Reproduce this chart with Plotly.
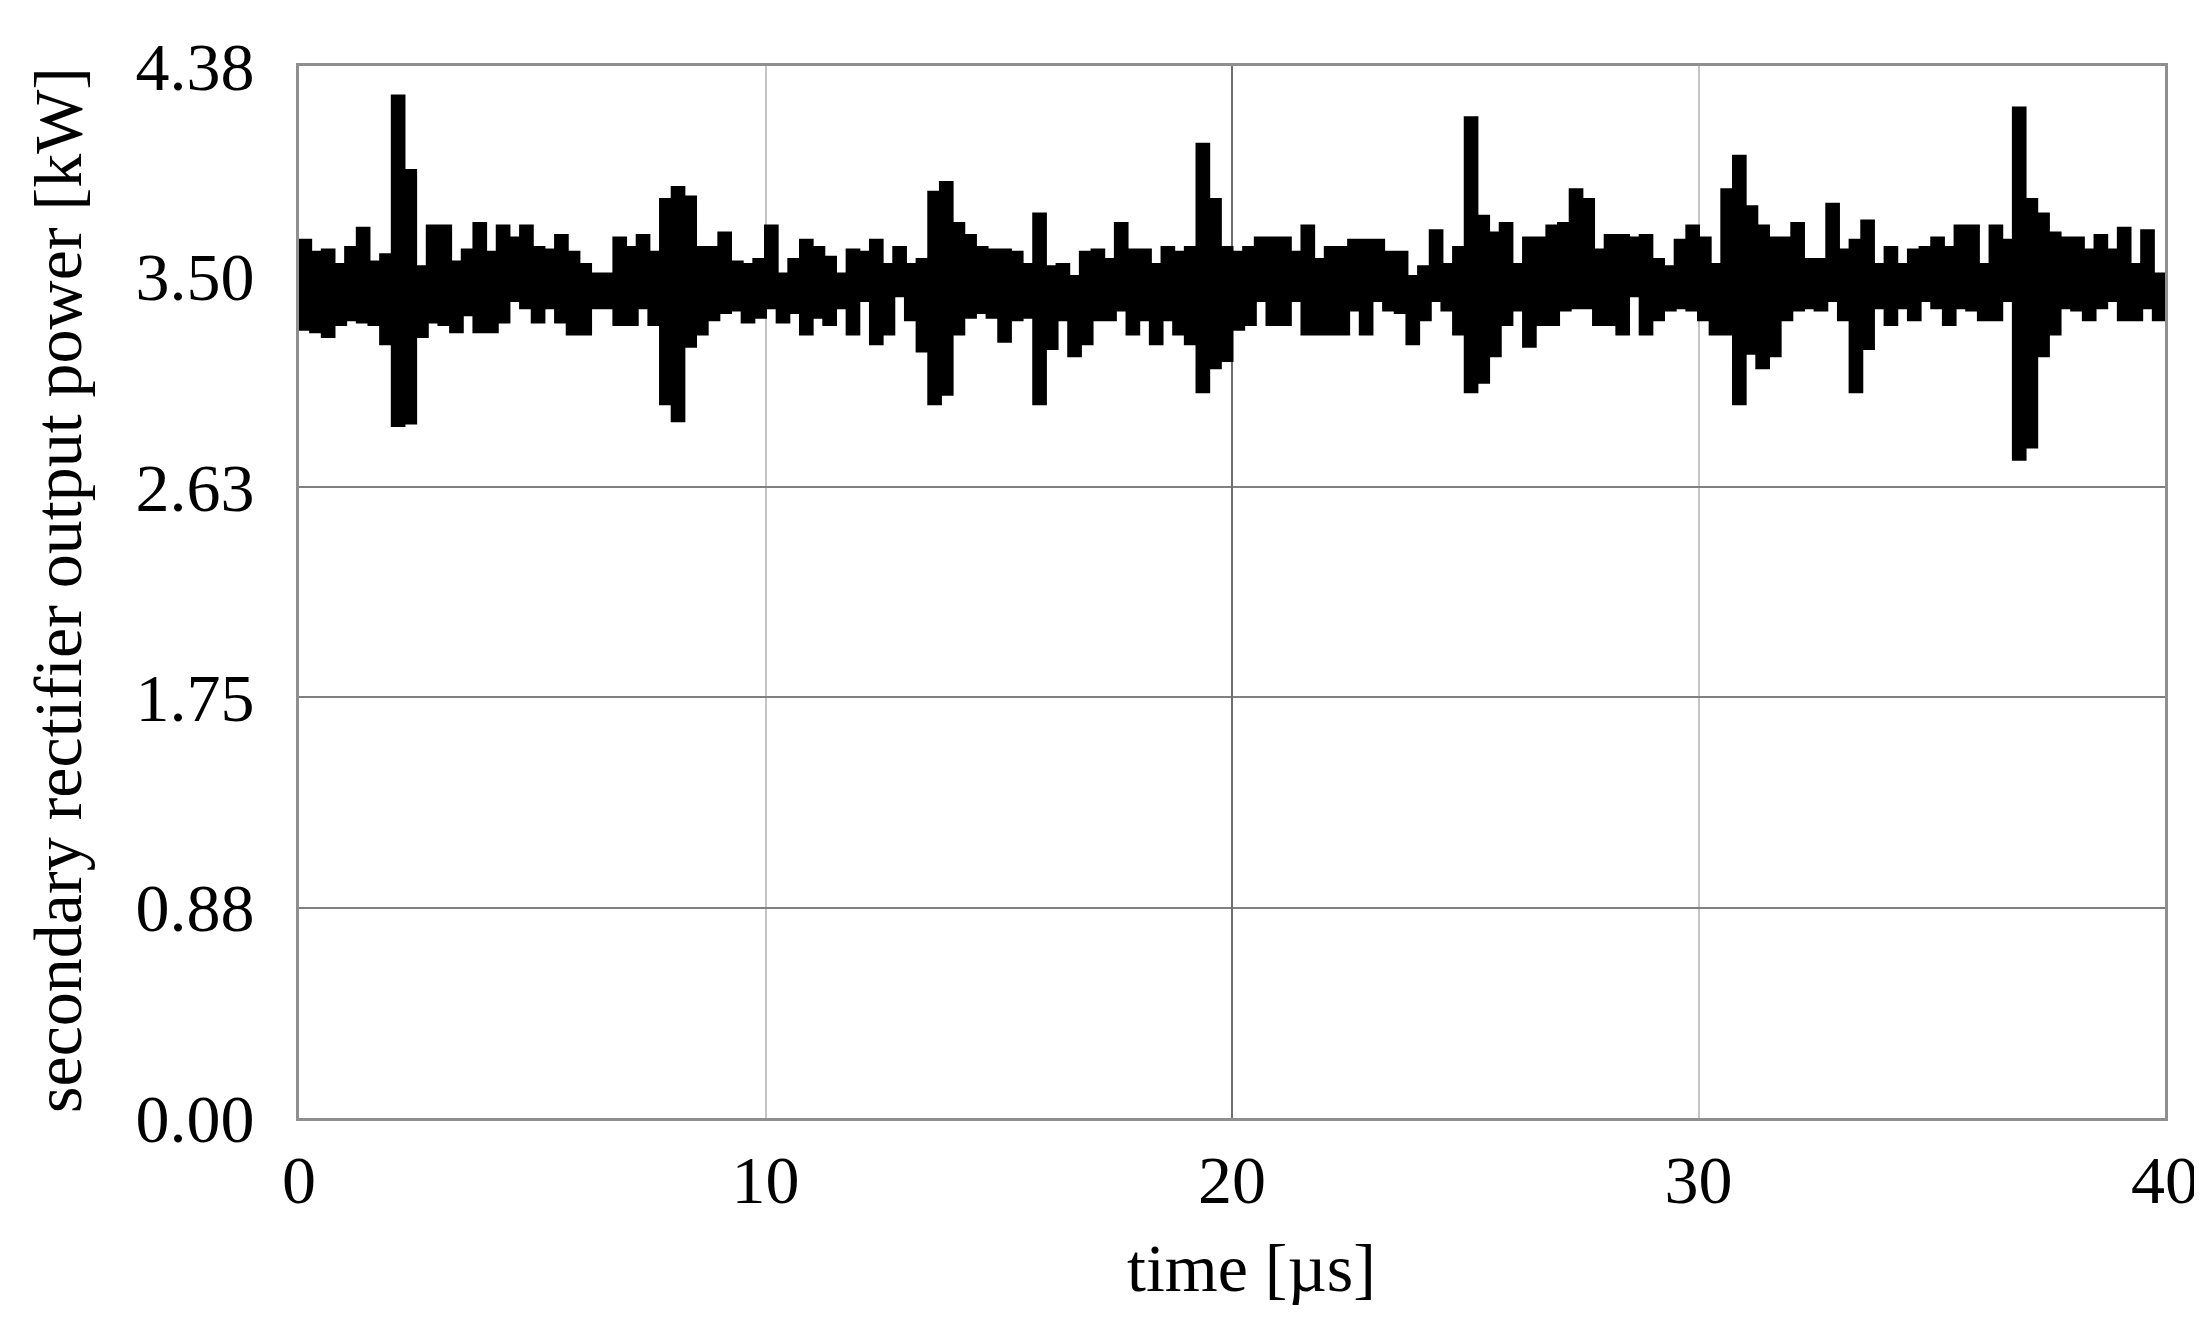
import plotly.graph_objects as go

# time grid [µs] (start of each 0.25 µs sample step)
step_us = 0.25
n_steps = 160
time_us = [round(k * step_us, 2) for k in range(n_steps)]

# upper envelope of the output power trace [kW]
upper_kw = [
    3.65, 3.60, 3.61, 3.55, 3.62, 3.70, 3.56, 3.59, 4.25, 3.94,
    3.54, 3.71, 3.71, 3.56, 3.61, 3.72, 3.60, 3.71, 3.66, 3.71,
    3.62, 3.61, 3.67, 3.60, 3.55, 3.51, 3.51, 3.66, 3.62, 3.67,
    3.60, 3.82, 3.87, 3.83, 3.62, 3.62, 3.68, 3.56, 3.55, 3.57,
    3.71, 3.51, 3.57, 3.65, 3.62, 3.58, 3.51, 3.61, 3.60, 3.65,
    3.55, 3.62, 3.55, 3.57, 3.85, 3.89, 3.72, 3.67, 3.62, 3.61,
    3.61, 3.60, 3.55, 3.76, 3.54, 3.55, 3.50, 3.60, 3.61, 3.57,
    3.72, 3.61, 3.61, 3.55, 3.62, 3.60, 3.62, 4.05, 3.82, 3.62,
    3.60, 3.62, 3.66, 3.66, 3.66, 3.60, 3.71, 3.57, 3.62, 3.62,
    3.65, 3.65, 3.65, 3.60, 3.60, 3.50, 3.54, 3.69, 3.55, 3.62,
    4.16, 3.75, 3.68, 3.72, 3.55, 3.66, 3.66, 3.71, 3.72, 3.86,
    3.82, 3.61, 3.67, 3.67, 3.66, 3.67, 3.57, 3.54, 3.65, 3.71,
    3.66, 3.55, 3.86, 4.00, 3.79, 3.71, 3.66, 3.66, 3.72, 3.57,
    3.57, 3.80, 3.61, 3.65, 3.73, 3.55, 3.62, 3.55, 3.61, 3.62,
    3.66, 3.62, 3.71, 3.71, 3.55, 3.71, 3.65, 4.20, 3.82, 3.76,
    3.68, 3.66, 3.66, 3.61, 3.67, 3.61, 3.70, 3.55, 3.69, 3.51,
]

# lower envelope of the output power trace [kW]
lower_kw = [
    3.28, 3.27, 3.25, 3.30, 3.32, 3.31, 3.30, 3.22, 2.88, 2.89,
    3.25, 3.31, 3.30, 3.27, 3.34, 3.27, 3.27, 3.31, 3.40, 3.37,
    3.31, 3.37, 3.31, 3.26, 3.26, 3.37, 3.37, 3.30, 3.30, 3.37,
    3.30, 2.97, 2.90, 3.21, 3.26, 3.32, 3.35, 3.36, 3.31, 3.33,
    3.37, 3.31, 3.35, 3.26, 3.33, 3.30, 3.37, 3.26, 3.40, 3.22,
    3.26, 3.42, 3.32, 3.19, 2.97, 3.01, 3.26, 3.33, 3.35, 3.33,
    3.23, 3.32, 3.33, 2.97, 3.20, 3.32, 3.17, 3.22, 3.32, 3.32,
    3.36, 3.26, 3.32, 3.22, 3.32, 3.26, 3.22, 3.02, 3.12, 3.15,
    3.28, 3.30, 3.40, 3.30, 3.30, 3.40, 3.26, 3.26, 3.26, 3.26,
    3.36, 3.26, 3.40, 3.36, 3.35, 3.22, 3.32, 3.40, 3.36, 3.26,
    3.02, 3.06, 3.17, 3.30, 3.36, 3.21, 3.30, 3.30, 3.36, 3.37,
    3.37, 3.30, 3.30, 3.26, 3.42, 3.26, 3.32, 3.36, 3.37, 3.36,
    3.32, 3.26, 3.26, 2.97, 3.18, 3.12, 3.17, 3.32, 3.36, 3.37,
    3.36, 3.40, 3.32, 3.02, 3.20, 3.37, 3.30, 3.37, 3.32, 3.40,
    3.37, 3.30, 3.37, 3.36, 3.32, 3.32, 3.40, 2.74, 2.79, 3.17,
    3.26, 3.37, 3.36, 3.32, 3.37, 3.40, 3.32, 3.32, 3.37, 3.32,
]

x_ticks = [0, 10, 20, 30, 40]
y_ticks = [0.0, 0.875, 1.75, 2.625, 3.5, 4.375]
y_tick_labels = ["0.00", "0.88", "1.75", "2.63", "3.50", "4.38"]
x_range = [0, 40]
y_range = [0, 4.375]
x_title = "time [µs]"
y_title = "secondary rectifier output power [kW]"

# close the last step at the end of the record
t_end = x_range[1]
xs = time_us + [t_end]
ys_up = upper_kw + [upper_kw[-1]]
ys_lo = lower_kw + [lower_kw[-1]]

FONT = "Liberation Serif, Times New Roman, serif"
FS = 68

W, H = 2202, 1317
ML, MR, MT, MB = 291, 45, 58, 207
PW = W - ML - MR
PH = H - MT - MB

fig = go.Figure()
fig.add_trace(go.Scatter(
    x=xs, y=ys_lo, mode="lines", line=dict(color="black", width=3, shape="hv"),
    showlegend=False, hoverinfo="skip",
))
fig.add_trace(go.Scatter(
    x=xs, y=ys_up, mode="lines", line=dict(color="black", width=3, shape="hv"),
    fill="tonexty", fillcolor="black", showlegend=False,
))
# invisible trace on an overlay axis that carries the darker centre gridline
fig.add_trace(go.Scatter(x=[x_ticks[2]], y=[y_ticks[4]], xaxis="x2", mode="markers",
                         marker=dict(opacity=0), showlegend=False, hoverinfo="skip"))

fig.update_layout(
    width=W, height=H,
    margin=dict(l=ML, r=MR, t=MT, b=MB, autoexpand=False),
    paper_bgcolor="white", plot_bgcolor="white",
    font=dict(family=FONT, size=FS, color="black"),
    xaxis=dict(
        range=x_range, tickvals=x_ticks, ticktext=[str(v) for v in x_ticks],
        showgrid=True, gridcolor="#c4c4c4", gridwidth=2,
        showline=True, linecolor="#8f8f8f", linewidth=3, mirror=True,
        zeroline=False, ticks="", ticklabelstandoff=0, automargin=False,
        tickfont=dict(family=FONT, size=FS),
    ),
    xaxis2=dict(
        range=x_range, overlaying="x", tickvals=[x_ticks[2]], showticklabels=False,
        showgrid=True, gridcolor="#6e6e6e", gridwidth=2, zeroline=False,
        showline=False, ticks="", automargin=False,
    ),
    yaxis=dict(
        range=y_range, tickvals=y_ticks, ticktext=y_tick_labels,
        showgrid=True, gridcolor="#808080", gridwidth=2,
        showline=True, linecolor="#8f8f8f", linewidth=3, mirror=True,
        zeroline=False, ticks="", ticklabelstandoff=28, automargin=False,
        tickfont=dict(family=FONT, size=FS),
    ),
    annotations=[
        dict(text=x_title, xref="paper", yref="paper",
             x=(1243 - ML) / PW, y=(H - MB - 1260) / PH,
             xanchor="center", yanchor="middle", showarrow=False,
             font=dict(family=FONT, size=FS, color="black")),
        dict(text=y_title, xref="paper", yref="paper",
             x=(50 - ML) / PW, y=(H - MB - 582) / PH, textangle=-90,
             xanchor="center", yanchor="middle", showarrow=False,
             font=dict(family=FONT, size=FS, color="black")),
    ],
)

fig.write_html("out.html")
